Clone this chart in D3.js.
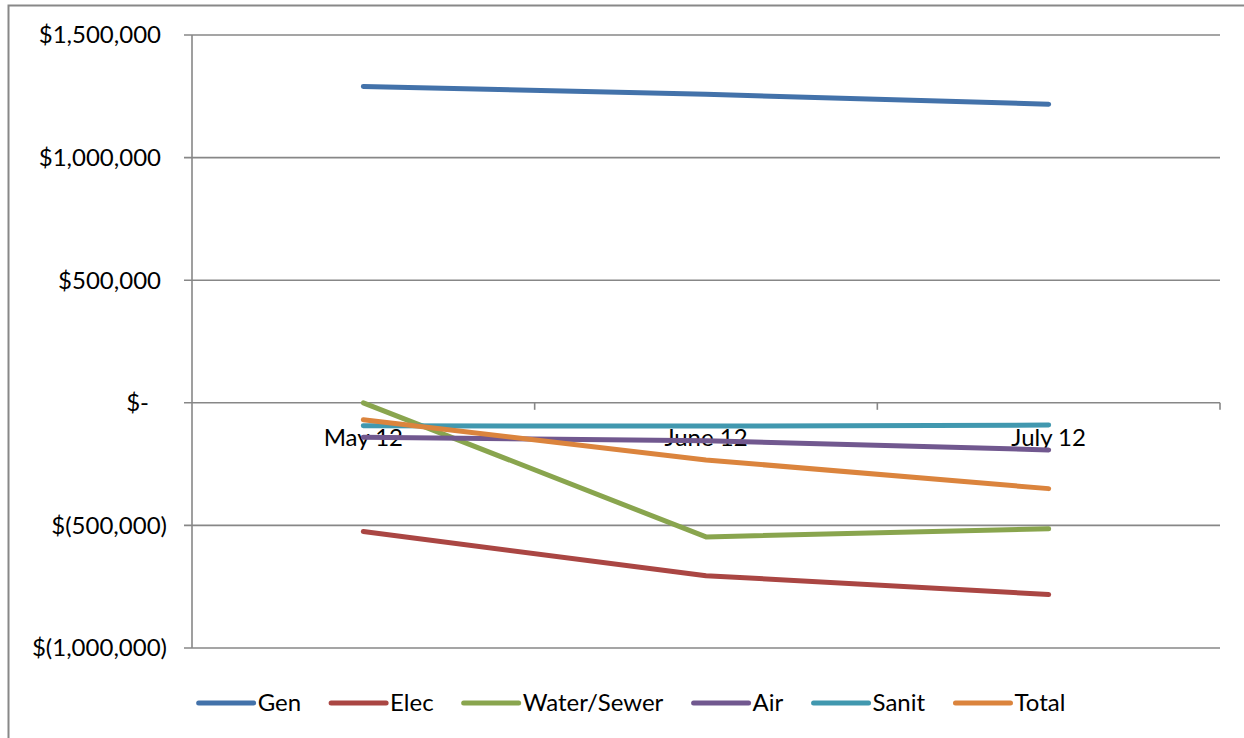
<!DOCTYPE html>
<html>
<head>
<meta charset="utf-8">
<script src="https://cdn.jsdelivr.net/npm/d3@7/dist/d3.min.js"></script>
<style>
  html, body { margin: 0; padding: 0; background: #fff; }
  svg { display: block; }
  text { font-family: Lato, "Open Sans", sans-serif; fill: #000; }
</style>
</head>
<body>
<svg id="chart" width="1244" height="738"></svg>
<script>
// ---- data ----
const categories = ["May 12", "June 12", "July 12"];
const seriesNames = ["Gen", "Elec", "Water/Sewer", "Air", "Sanit", "Total"];
const genValues   = [1290000, 1258000, 1218000];
const elecValues  = [-525000, -705000, -782000];
const waterValues = [0, -547000, -514000];
const airValues   = [-141000, -155000, -192000];
const sanitValues = [-94000, -95000, -91000];
const totalValues = [-69000, -233000, -350000];
const yTicks = [1500000, 1000000, 500000, 0, -500000, -1000000];
const colors = ["#4372AA", "#AA4643", "#89A54E", "#71588F", "#4198AF", "#DB843D"];

const series = [genValues, elecValues, waterValues, airValues, sanitValues, totalValues]
  .map((vals, i) => ({ name: seriesNames[i], values: vals, color: colors[i] }));

// ---- layout ----
const svg = d3.select("#chart");
const plot = { left: 192, right: 1220, top: 35, bottom: 648 };
const fontSize = 24;
const gridColor = "#878787";

// outer chart border
svg.append("rect")
  .attr("x", 8.5).attr("y", 5.5)
  .attr("width", 1300).attr("height", 800)
  .attr("fill", "none").attr("stroke", "#888").attr("stroke-width", 2);

const x = d3.scaleBand().domain(categories).range([plot.left, plot.right]).padding(0);
const y = d3.scaleLinear().domain([-1000000, 1500000]).range([plot.bottom, plot.top]);

// gridlines
svg.append("g").selectAll("line").data(yTicks).join("line")
  .attr("x1", plot.left - 8).attr("x2", plot.right)
  .attr("y1", d => y(d)).attr("y2", d => y(d))
  .attr("stroke", gridColor).attr("stroke-width", 1.6);

// y axis line
svg.append("line")
  .attr("x1", plot.left).attr("x2", plot.left)
  .attr("y1", plot.top).attr("y2", plot.bottom)
  .attr("stroke", gridColor).attr("stroke-width", 1.6);

// y tick labels (accounting format)
const fmt = d3.format(",");
function yLabel(v) {
  if (v === 0) return "$-";
  if (v < 0) return "$(" + fmt(-v) + ")";
  return "$" + fmt(v);
}
function yLabelX(v) {
  if (v === 0) return 149;
  if (v < 0) return 167;
  return 161;
}
svg.append("g").selectAll("text").data(yTicks).join("text")
  .attr("x", d => yLabelX(d))
  .attr("y", d => y(d))
  .attr("dy", "0.35em")
  .attr("text-anchor", "end")
  .attr("font-size", fontSize)
  .text(yLabel);

// x axis ticks (category boundaries) at zero
const boundaries = categories.map(c => x(c) + x.bandwidth());
svg.append("g").selectAll("line").data(boundaries).join("line")
  .attr("x1", d => d).attr("x2", d => d)
  .attr("y1", y(0)).attr("y2", y(0) + 7)
  .attr("stroke", gridColor).attr("stroke-width", 1.6);

// x category labels
svg.append("g").selectAll("text").data(categories).join("text")
  .attr("x", d => x(d) + x.bandwidth() / 2)
  .attr("y", y(0) + 35)
  .attr("dy", "0.35em")
  .attr("text-anchor", "middle")
  .attr("font-size", fontSize)
  .text(d => d);

// lines
const line = d3.line()
  .x((d, i) => x(categories[i]) + x.bandwidth() / 2)
  .y(d => y(d));
svg.append("g").selectAll("path").data(series).join("path")
  .attr("d", d => line(d.values))
  .attr("fill", "none")
  .attr("stroke", d => d.color)
  .attr("stroke-width", 5)
  .attr("stroke-linecap", "round")
  .attr("stroke-linejoin", "round");

// legend
const legendY = 703;
const symW = 55, symGap = 4, itemGap = 30;
const legend = svg.append("g");
const items = legend.selectAll("g").data(series).join("g");
items.append("line")
  .attr("x1", 0).attr("x2", symW)
  .attr("y1", 0).attr("y2", 0)
  .attr("stroke", d => d.color).attr("stroke-width", 5)
  .attr("stroke-linecap", "round");
items.append("text")
  .attr("x", symW + symGap)
  .attr("y", 0).attr("dy", "0.35em")
  .attr("font-size", fontSize)
  .text(d => d.name);
let widths = [];
items.each(function() { widths.push(this.getBBox().width); });
const total = d3.sum(widths) + itemGap * (widths.length - 1);
let cx = 632 - total / 2;
items.attr("transform", (d, i) => {
  const t = `translate(${cx},${legendY})`;
  cx += widths[i] + itemGap;
  return t;
});
</script>
</body>
</html>
